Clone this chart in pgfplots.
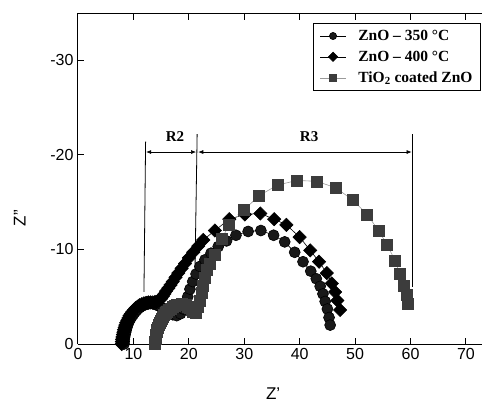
\documentclass[border=0pt]{standalone}
\usepackage{pgfplots}
\pgfplotsset{compat=1.18}
\usepackage{fontspec}
\setmainfont{Liberation Sans}
\newfontfamily\tnr{Liberation Serif}
\usetikzlibrary{arrows.meta}

\definecolor{sqgray}{HTML}{3C3C3C}
\definecolor{lngray}{HTML}{9A9A9A}

\begin{document}
\begin{tikzpicture}
\begin{axis}[
    scale only axis,
    width=404pt, height=331pt,
    xmin=0, xmax=72.9,
    ymin=-35, ymax=0,
    y dir=reverse,
    axis x line=box, axis y line=left,
    axis line style={-, line width=1pt},
    xtick={0,10,...,70}, ytick={0,-10,-20,-30},
    tick align=inside, major tick length=6.5pt,
    tick style={line width=1pt, black},
    x tick label style={yshift=-1pt},
    y tick label style={xshift=-1pt},
    /pgf/number format/assume math mode=true,
    tick label style={font=\fontsize{16}{18}\selectfont},
    label style={font=\fontsize{17}{19}\selectfont},
    xlabel={Z'}, ylabel={Z''},
    xlabel style={at={(axis description cs:0.483,-0.151)}, anchor=center},
    ylabel style={at={(axis description cs:-0.144,0.38)}, anchor=center, rotate=0},
    legend cell align=left,
    legend style={at={(axis description cs:0.9975,0.971)}, anchor=north east,
        draw=black, line width=1pt,
        font=\tnr\bfseries\fontsize{15.5}{17}\selectfont,
        inner xsep=6pt, inner ysep=5pt, row sep=5pt, column sep=10pt},
    legend image code/.code={\draw[mark repeat=2,mark phase=2,#1]
        plot coordinates {(0pt,0pt) (13pt,0pt) (26pt,0pt)};},
]
\addplot[color=black, line width=0.6pt, mark=*, mark size=5.5pt,
    mark options={fill=black!90},
    legend image post style={mark size=3.6pt}] coordinates {
(8.3,0) (8.32,-0.25) (8.35,-0.5) (8.42,-0.75) (8.5,-1.0) (8.6,-1.25) (8.7,-1.5)
(8.82,-1.75) (8.95,-2.0) (9.1,-2.25) (9.3,-2.5) (9.5,-2.7) (9.7,-2.9)
(9.95,-3.1) (10.2,-3.3) (10.5,-3.5) (10.8,-3.7) (11.15,-3.85) (11.5,-4.0)
(11.9,-4.1) (12.3,-4.2) (12.7,-4.25) (13.1,-4.3) (13.5,-4.25) (13.9,-4.2)
(14.3,-4.1) (14.7,-4.0) (15.1,-3.85) (15.5,-3.7) (15.9,-3.55) (16.3,-3.4)
(16.7,-3.25) (17.1,-3.1) (17.8,-3.0) (18.5,-3.2)
(19.0,-3.7) (19.4,-4.3) (19.8,-5.0) (20.2,-5.8) (20.7,-6.6) (21.3,-7.4)
(22.0,-8.2) (22.9,-8.9) (24.0,-9.6) (25.3,-10.3) (26.8,-10.9) (28.5,-11.5)
(30.7,-11.9) (33.0,-12.0) (35.3,-11.5) (37.3,-10.8) (39.1,-9.7) (40.6,-8.7)
(42.0,-7.7) (43.0,-6.9) (43.7,-6.1) (44.2,-5.3) (44.6,-4.5) (45.0,-3.7)
(45.3,-2.8) (45.5,-2.0)
};
\addlegendentry{ZnO – 350 °C}
\addplot[color=black, line width=0.6pt, mark=square*, mark size=4.7pt,
    mark options={rotate=45, fill=black},
    legend image post style={mark size=3.3pt}] coordinates {
(7.9,0) (7.92,-0.25) (7.95,-0.5) (8.02,-0.75) (8.1,-1.0) (8.2,-1.25) (8.3,-1.5)
(8.42,-1.75) (8.55,-2.0) (8.7,-2.25) (8.9,-2.5) (9.1,-2.75) (9.3,-3.0)
(9.55,-3.2) (9.8,-3.4) (10.1,-3.6) (10.4,-3.8) (10.75,-3.95) (11.1,-4.1)
(11.5,-4.2) (11.9,-4.3) (12.3,-4.35) (12.7,-4.4) (13.1,-4.4) (13.5,-4.4)
(13.9,-4.45) (14.3,-4.5) (14.65,-4.65) (15.0,-4.8) (15.3,-5.05) (15.6,-5.3)
(15.9,-5.6) (16.3,-5.9) (16.7,-6.25) (17.1,-6.6) (17.6,-7.05) (18.1,-7.5)
(18.7,-8.0) (19.3,-8.5) (20.0,-9.1) (20.8,-9.7) (21.7,-10.35) (22.6,-11.0)
(24.7,-12.0) (27.3,-13.2) (30.1,-13.7)
(32.9,-13.8) (35.4,-13.2) (37.6,-12.6) (40.0,-11.3) (41.9,-9.9) (43.5,-8.7)
(44.9,-7.5) (45.8,-6.4) (46.4,-5.5) (46.8,-4.6) (47.3,-3.6)
};
\addlegendentry{ZnO – 400 °C}
\addplot[color=lngray, line width=0.6pt, mark=square*, mark size=5.5pt,
    mark options={draw=sqgray, fill=sqgray},
    legend image post style={mark size=3.4pt}] coordinates {
(13.9,0) (13.92,-0.25) (13.95,-0.5) (14.02,-0.75) (14.1,-1.0) (14.2,-1.25)
(14.3,-1.5) (14.42,-1.75) (14.55,-2.0) (14.72,-2.25) (14.9,-2.5) (15.1,-2.7)
(15.3,-2.9) (15.55,-3.1) (15.8,-3.3) (16.1,-3.45) (16.4,-3.6) (16.75,-3.75)
(17.1,-3.9) (17.5,-4.0) (17.9,-4.1) (18.3,-4.15) (18.7,-4.2) (19.1,-4.15)
(19.5,-4.1) (19.85,-3.95) (20.2,-3.8) (20.5,-3.6) (20.8,-3.4) (21.3,-3.3)
(21.7,-3.9) (22.0,-4.6) (22.3,-5.4) (22.6,-6.2) (22.9,-7.0) (23.3,-7.8)
(23.8,-8.5) (24.7,-9.4)
(25.9,-11.1) (27.3,-12.6) (30.0,-14.2) (32.7,-15.7) (36.0,-16.8) (39.5,-17.3)
(43.1,-17.2) (46.6,-16.5) (49.6,-15.2) (52.2,-13.7) (54.2,-12.0) (55.8,-10.5)
(57.2,-8.8) (58.1,-7.4) (58.8,-6.2) (59.3,-5.2) (59.6,-4.2)
};
\addlegendentry{TiO\textsubscript{2} coated ZnO}

% R2 / R3 markers
\draw[line width=0.8pt] (axis cs:12.2,-21.4) -- (axis cs:11.9,-5.5);
\draw[line width=0.8pt] (axis cs:21.5,-22.2) -- (axis cs:21.1,-7.5);
\draw[line width=0.8pt] (axis cs:60.3,-22.2) -- (axis cs:60.3,-6.0);
\draw[line width=0.6pt, {Latex[length=5pt,width=4pt]}-{Latex[length=5pt,width=4pt]}]
    (axis cs:12.3,-20.3) -- (axis cs:21.3,-20.3);
\draw[line width=0.6pt, {Latex[length=5pt,width=4pt]}-{Latex[length=5pt,width=4pt]}]
    (axis cs:21.7,-20.3) -- (axis cs:60.2,-20.3);
\node[font=\tnr\bfseries\fontsize{15}{17}\selectfont] at (axis cs:17.5,-21.9) {R2};
\node[font=\tnr\bfseries\fontsize{15}{17}\selectfont] at (axis cs:41.7,-21.9) {R3};
\end{axis}
\pgfresetboundingbox
\path[use as bounding box] (-78pt,-58pt) rectangle (404pt,344pt);
\end{tikzpicture}
\end{document}
